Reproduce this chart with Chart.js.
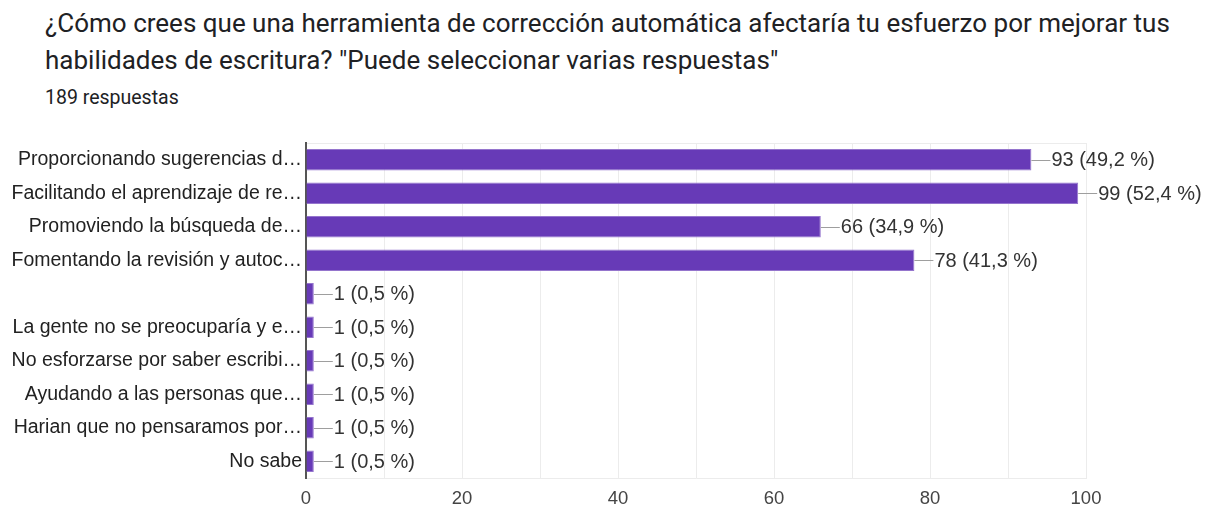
<!DOCTYPE html>
<html>
<head>
<meta charset="utf-8">
<script src="https://cdn.jsdelivr.net/npm/chart.js@4"></script>
<style>
  body { margin: 0; background: #fff; width: 1212px; height: 508px; overflow: hidden; position: relative; }
  .title { position: absolute; left: 45px; top: 5px; font-family: Roboto, sans-serif; font-size: 26px; line-height: 37px; color: #202124; white-space: nowrap; }
  .count { position: absolute; left: 45px; top: 86px; font-family: Roboto, sans-serif; font-size: 19.5px; color: #202124; }
  .wrap { position: absolute; left: 0; top: 120px; width: 1212px; height: 388px; }
</style>
</head>
<body>
<div class="title">¿Cómo crees que una herramienta de corrección automática afectaría tu esfuerzo por mejorar tus<br>habilidades de escritura? "Puede seleccionar varias respuestas"</div>
<div class="count">189 respuestas</div>
<div class="wrap"><canvas id="chart"></canvas></div>
<script>
// Data
const totalResponses = 189
const answers = [
    "Proporcionando sugerencias d…",
    "Facilitando el aprendizaje de re…",
    "Promoviendo la búsqueda de…",
    "Fomentando la revisión y autoc…",
    "",
    "La gente no se preocuparía y e…",
    "No esforzarse por saber escribi…",
    "Ayudando a las personas que…",
    "Harian que no pensaramos por…",
    "No sabe"
]
const counts = [93, 99, 66, 78, 1, 1, 1, 1, 1, 1]
const xTicks = [0, 20, 40, 60, 80, 100]

// value labels with a small connector line
const valueLabels = {
    id: 'valueLabels',
    afterDatasetsDraw(chart) {
        const ctx = chart.ctx
        const meta = chart.getDatasetMeta(0)
        ctx.save()
        ctx.font = '20px "Liberation Sans", Arial, sans-serif'
        ctx.textBaseline = 'middle'
        meta.data.forEach((bar, i) => {
            const pct = (counts[i] / totalResponses * 100).toFixed(1).replace('.', ',')
            ctx.strokeStyle = '#9e9e9e'
            ctx.lineWidth = 1
            ctx.beginPath()
            ctx.moveTo(bar.x, Math.round(bar.y) + 0.5)
            ctx.lineTo(bar.x + 19, Math.round(bar.y) + 0.5)
            ctx.stroke()
            ctx.fillStyle = '#333'
            ctx.fillText(`${counts[i]} (${pct} %)`, bar.x + 20, bar.y + 1)
        })
        ctx.restore()
    }
}

new Chart(document.getElementById('chart'), {
    type: 'bar',
    data: {
        labels: answers,
        datasets: [{
            data: counts,
            backgroundColor: '#673ab7',
            borderColor: '#9575cd',
            borderWidth: { top: 1, bottom: 1, left: 0, right: 1 },
            borderSkipped: 'left',
            barPercentage: 0.8,
            categoryPercentage: 0.8
        }]
    },
    options: {
        indexAxis: 'y',
        responsive: true,
        maintainAspectRatio: false,
        animation: false,
        layout: { padding: { top: 23, right: 126, left: 0, bottom: 0 } },
        plugins: { legend: { display: false }, tooltip: { enabled: false } },
        scales: {
            x: {
                min: 0,
                max: 100,
                afterBuildTicks: (s) => {
                    s.ticks = []
                    for (let v = 0; v <= 100; v += 10) s.ticks.push({ value: v })
                },
                ticks: {
                    autoSkip: false,
                    maxRotation: 0,
                    padding: 10,
                    color: '#444',
                    font: { family: '"Liberation Sans", Arial, sans-serif', size: 18.5 },
                    callback: (v) => xTicks.includes(v) ? v : ''
                },
                grid: { color: '#ececec', drawTicks: false, lineWidth: 1 },
                border: { color: '#ececec', width: 1 },
                afterFit: (s) => { s.height = 30 }
            },
            y: {
                ticks: {
                    color: '#222',
                    padding: 4,
                    autoSkip: false,
                    font: { family: '"Liberation Sans", Arial, sans-serif', size: 19.5 }
                },
                grid: {
                    drawTicks: false,
                    color: (c) => (c.type === 'scale' || c.index === 0) ? '#ececec' : 'transparent'
                },
                border: { color: '#555', width: 2 },
                afterFit: (s) => { s.width = 306 }
            }
        }
    },
    plugins: [valueLabels]
})
</script>
</body>
</html>
